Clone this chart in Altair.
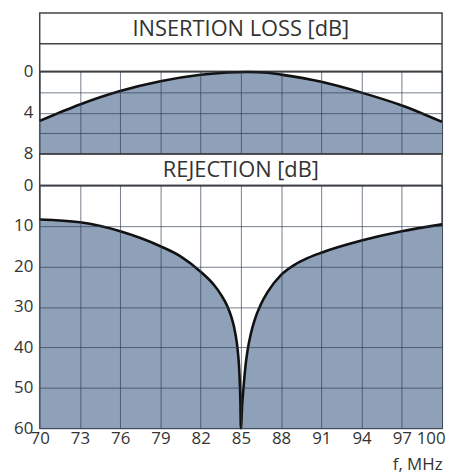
import altair as alt
import pandas as pd

# ---- data ----
titles = ["INSERTION LOSS [dB]", "REJECTION [dB]"]
x_ticks = [70, 73, 76, 79, 82, 85, 88, 91, 94, 97, 100]

il_freq = [70, 73, 76, 79, 82, 84, 85.5, 87, 88, 91, 94, 97, 100]
il_db = [4.8, 3.2, 1.9, 0.95, 0.32, 0.1, 0.05, 0.12, 0.3, 1.0, 2.05, 3.3, 4.9]
il_ticks = [0, 2, 4, 6, 8]

rej_freq = [70, 73, 76, 79, 80.5, 82, 83, 83.5, 84, 84.3, 84.5, 84.7, 84.8,
            84.9, 84.96, 85.0, 85.1, 85.2, 85.35, 85.5, 85.75, 86, 86.5, 87,
            88, 89, 90, 91, 94, 97, 100]
rej_db = [8.4, 9.1, 11.3, 15.0, 17.5, 21.3, 24.6, 26.9, 29.9, 32.6, 35.1, 38.9,
          41.9, 47.0, 53.0, 60.0, 54.0, 49.8, 44.4, 40.7, 36.5, 33.5, 29.3, 26.3,
          22.1, 19.6, 17.9, 16.6, 13.6, 11.3, 9.6]
rej_ticks = [0, 10, 20, 30, 40, 50, 60]

FONT = "Open Sans"
TXT = "#333333"
FILL = "#8ea1b9"
W = 406

il_df = pd.DataFrame({"f": il_freq, "v": il_db})
rej_df = pd.DataFrame({"f": rej_freq, "v": rej_db})


def band(title, h, box_h):
    base = alt.Chart(pd.DataFrame({"t": [title]}))
    txt = base.mark_text(font=FONT, fontSize=22, color=TXT, baseline="middle",
                         align="center").encode(
        x=alt.value(W / 2), y=alt.value(box_h / 2 + 0.5), text="t:N")
    layers = [txt]
    if box_h < h:
        rule = base.mark_rule(color="#444444", strokeWidth=1.5).encode(
            x=alt.value(0), x2=alt.value(W), y=alt.value(box_h))
        layers.append(rule)
    return alt.layer(*layers).properties(width=W, height=h)


grid_kw = dict(grid=True, gridColor="#2b3a4c", gridOpacity=0.65, gridWidth=1,
               ticks=False, domain=False, zindex=1)
ylab_kw = dict(labelFont=FONT, labelFontSize=17, labelColor=TXT, labelPadding=7,
               title=None)

x_scale = alt.Scale(domain=[70, 100], nice=False, zero=False)

panel1 = alt.Chart(il_df).mark_area(
    interpolate="monotone", color=FILL, opacity=1,
    line={"color": "#111111", "strokeWidth": 2.6}
).encode(
    x=alt.X("f:Q", scale=x_scale,
            axis=alt.Axis(values=x_ticks, labels=False, title=None, **grid_kw)),
    y=alt.Y("v:Q", scale=alt.Scale(domain=[0, 8], reverse=True, nice=False),
            axis=alt.Axis(values=il_ticks,
                          labelExpr="datum.value % 4 == 0 ? datum.label : ''",
                          **ylab_kw, **grid_kw)),
    y2=alt.Y2Datum(8),
).properties(width=W, height=83)

panel2 = alt.Chart(rej_df).mark_area(
    interpolate="monotone", color=FILL, opacity=1,
    line={"color": "#111111", "strokeWidth": 2.6}
).encode(
    x=alt.X("f:Q", scale=x_scale,
            axis=alt.Axis(values=x_ticks, labelFont=FONT, labelFontSize=17,
                          labelColor=TXT, labelPadding=2, labelFlush=False,
                          labelAlign={"condition": {"test": "datum.value == 100",
                                                    "value": "right"},
                                      "value": "center"},
                          labelOffset={"condition": {"test": "datum.value == 100",
                                                     "value": 3},
                                       "value": 0},
                          title="f, MHz",
                          titleFont=FONT, titleFontSize=17,
                          titleFontWeight="normal", titleColor=TXT,
                          titleAnchor="end", titlePadding=11, **grid_kw)),
    y=alt.Y("v:Q", scale=alt.Scale(domain=[0, 60], reverse=True, nice=False),
            axis=alt.Axis(values=rej_ticks, **ylab_kw, **grid_kw)),
    y2=alt.Y2Datum(60),
).properties(width=W, height=245)

chart = alt.vconcat(
    band(titles[0], 59, 31),
    panel1,
    band(titles[1], 32, 32),
    panel2,
    spacing=0,
    bounds="flush",
).properties(
    padding={"left": 4, "top": 2, "right": 0, "bottom": 0}
).configure_view(
    stroke="#444444", strokeWidth=1.5
).configure_concat(spacing=0)

chart.save("out.html", embed_options={"renderer": "svg", "actions": False})
